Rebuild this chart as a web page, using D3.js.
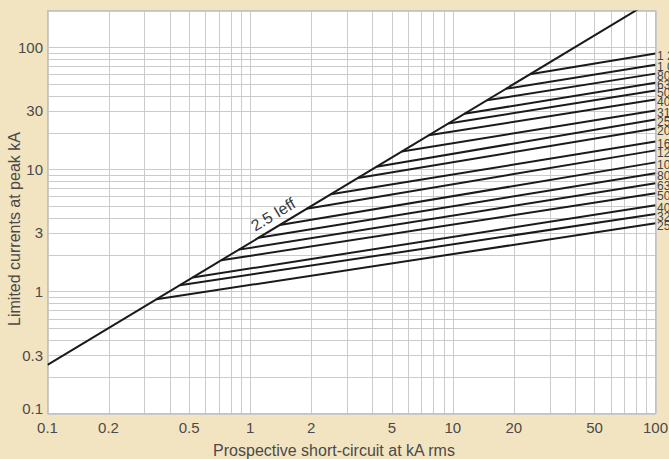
<!DOCTYPE html>
<html lang="en">
<head>
  <meta charset="UTF-8">
  <title>Limited currents</title>
  <style>
    body { margin: 0; background: #f3e4c1; }
    svg { display: block; }
  </style>
</head>
<body>

<svg id="chart" width="669" height="459"></svg>

<script src="https://cdn.jsdelivr.net/npm/d3@7/dist/d3.min.js"></script>

<script>
/* global d3 */

// fuse ratings (A), label text as printed on the right side
var fuses = ["1 250", "1 000", "800", "630", "500", "400", "315", "250", "200",
             "160", "125", "100", "80", "63", "50", "40", "32", "25"];
// prospective current where each curve leaves the 2.5 Ieff line (kA rms)
var startX = [24, 18.3, 14.7, 11.4, 9.5, 7.6, 5.6, 4.2, 3.4,
              2.5, 1.9, 1.4, 1.1, 0.88, 0.72, 0.52, 0.45, 0.345];
// limited peak current read at 100 kA rms
var endY = [88.9, 71.9, 60.8, 51.3, 44.2, 37.3, 30.3, 25.6, 21.6,
            16.9, 14.3, 11.4, 9.28, 7.69, 6.37, 5.08, 4.30, 3.62];

var xTicks = [0.1, 0.2, 0.5, 1, 2, 5, 10, 20, 50, 100];
var yTicks = [0.1, 0.3, 1, 3, 10, 30, 100];
var factor = 2.5;  // peak = 2.5 * Ieff

// note: "top" is taken by window.top, so plot edges get a p prefix
var svg = d3.select("#chart"),
  pLeft = 47.5, pTop = 10.5, pRight = 655.5, pBottom = 413.5,
  font = "Liberation Sans, Arial, sans-serif";

var x = d3.scaleLog().domain([0.1, 100]).range([pLeft, pRight]);
var y = d3.scaleLog().domain([0.1, 200]).range([pBottom, pTop]);

// plot background
svg.append("rect")
  .attr("x", pLeft).attr("y", pTop)
  .attr("width", pRight - pLeft).attr("height", pBottom - pTop)
  .attr("fill", "#fff");

// grid, every 1..9 of each decade
var xGrid = [], yGrid = [];
[0.1, 1, 10].forEach(function (d) {
  for (var i = 1; i < 10; i++) xGrid.push(d * i);
});
xGrid.push(100);
[0.1, 1, 10, 100].forEach(function (d) {
  for (var i = 1; i < 10; i++) if (d * i <= 200) yGrid.push(d * i);
});

var grid = svg.append("g").attr("stroke", "#cbcbcb").attr("stroke-width", 1);
grid.selectAll(".vx").data(xGrid).enter().append("line")
  .attr("x1", function (d) { return Math.round(x(d)) + 0.5; })
  .attr("x2", function (d) { return Math.round(x(d)) + 0.5; })
  .attr("y1", pTop).attr("y2", pBottom);
grid.selectAll(".hy").data(yGrid).enter().append("line")
  .attr("y1", function (d) { return Math.round(y(d)) + 0.5; })
  .attr("y2", function (d) { return Math.round(y(d)) + 0.5; })
  .attr("x1", pLeft).attr("x2", pRight);

svg.append("rect")
  .attr("x", pLeft).attr("y", pTop)
  .attr("width", pRight - pLeft).attr("height", pBottom - pTop)
  .attr("fill", "none").attr("stroke", "#c2c2c2");

// clip everything to the plot
svg.append("clipPath").attr("id", "clip")
  .append("rect").attr("x", pLeft).attr("y", pTop)
  .attr("width", pRight - pLeft).attr("height", pBottom - pTop);

var plot = svg.append("g").attr("clip-path", "url(#clip)");

var line = d3.line()
  .x(function (d) { return x(d[0]); })
  .y(function (d) { return y(d[1]); });

// fuse cut-off curves
fuses.forEach(function (f, i) {
  plot.append("path")
    .attr("d", line([[startX[i], factor * startX[i]], [100, endY[i]]]))
    .attr("fill", "none").attr("stroke", "#1a1a1a").attr("stroke-width", 2);
});

// 2.5 Ieff line
plot.append("path")
  .attr("d", line([[0.1, factor * 0.1], [100, factor * 100]]))
  .attr("fill", "none").attr("stroke", "#1a1a1a").attr("stroke-width", 2);

var ang = Math.atan2(y(1) - y(10), x(10) - x(1)) * 180 / Math.PI;
svg.append("text")
  .attr("transform", "translate(" + (x(1.0) + 5) + "," + (y(factor * 1.0) - 11) + ") rotate(" + (-ang) + ")")
  .attr("font-family", font)
  .attr("font-size", 16).attr("fill", "#3a3a3a")
  .text("2.5 Ieff");

// labels at the right edge
svg.selectAll(".flab").data(fuses).enter().append("text")
  .attr("x", pRight + 1.5)
  .attr("y", function (d, i) { return y(endY[i]) + 6.5; })
  .attr("font-family", font)
  .attr("font-size", 12).attr("fill", "#444")
  .text(function (d) { return d; });

// tick labels
svg.selectAll(".xl").data(xTicks).enter().append("text")
  .attr("x", function (d) { return x(d); })
  .attr("y", 433)
  .attr("text-anchor", "middle")
  .attr("font-family", font)
  .attr("font-size", 15).attr("fill", "#4a4a4a")
  .text(function (d) { return d; });

svg.selectAll(".yl").data(yTicks).enter().append("text")
  .attr("x", 43)
  .attr("y", function (d) { return d === 0.1 ? y(d) - 5 : y(d); })
  .attr("dy", "0.35em")
  .attr("text-anchor", "end")
  .attr("font-family", font)
  .attr("font-size", 15).attr("fill", "#4a4a4a")
  .text(function (d) { return d; });

// axis titles
svg.append("text")
  .attr("x", 334).attr("y", 456)
  .attr("text-anchor", "middle")
  .attr("font-family", font)
  .attr("font-size", 16).attr("fill", "#4a4a4a")
  .text("Prospective short-circuit at kA rms");

svg.append("text")
  .attr("transform", "translate(20,229) rotate(-90)")
  .attr("text-anchor", "middle")
  .attr("font-family", font)
  .attr("font-size", 16).attr("fill", "#4a4a4a")
  .text("Limited currents at peak kA");
</script>

</body>
</html>
